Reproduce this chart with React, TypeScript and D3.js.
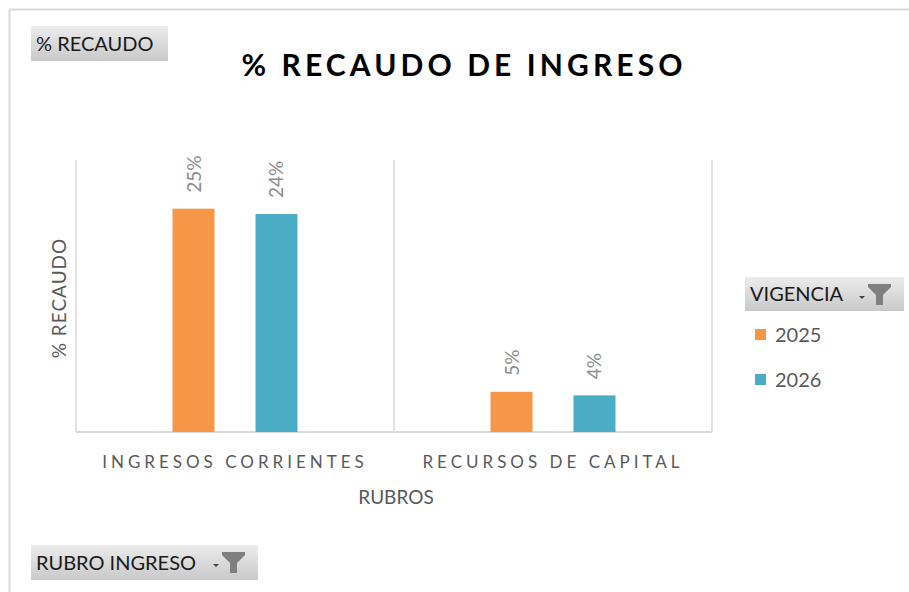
import React from "react";
import * as d3 from "d3";

const categories = ["INGRESOS CORRIENTES", "RECURSOS DE CAPITAL"];
const seriesNames = ["2025", "2026"];
const values2025 = [25.0, 4.5];
const values2026 = [24.4, 4.1];
const valueLabels2025 = ["25%", "5%"];
const valueLabels2026 = ["24%", "4%"];
const colors = ["#F79646", "#4BACC6"];

const W = 909;
const H = 592;
const FONT = "Lato, 'Open Sans', sans-serif";

function FilterIcon({ x, y }: { x: number; y: number }) {
  return (
    <g transform={`translate(${x},${y})`}>
      <path d="M0,12 L6,12 L3,15 Z" fill="#404040" />
      <path d="M9,0 L32,0 L32,3 L24,11 L24,21 L17,21 L17,11 L9,3 Z" fill="#7f7f7f" />
    </g>
  );
}

function Button({ x, y, w, h, label, filter, id }: any) {
  return (
    <g>
      <defs>
        <linearGradient id={id} x1="0" y1="0" x2="0" y2="1">
          <stop offset="0" stopColor="#ececec" />
          <stop offset="1" stopColor="#c9c9c9" />
        </linearGradient>
      </defs>
      <rect x={x} y={y} width={w} height={h} fill={`url(#${id})`} />
      <text x={x + 5} y={y + h / 2 + 7} fontFamily={FONT} fontSize={20} fill="#1a1a1a">
        {label}
      </text>
      {filter && <FilterIcon x={x + w - 45} y={y + 7} />}
    </g>
  );
}

export default function App() {
  const plotLeft = 76;
  const plotRight = 712;
  const plotTop = 160;
  const baseY = 432;

  const x0 = d3.scaleBand().domain(categories).range([plotLeft, plotRight]).paddingInner(0).paddingOuter(0);
  const x1 = d3.scaleBand().domain(seriesNames).range([0, x0.bandwidth()]).paddingInner(0.494).paddingOuter(1.163);
  const y = d3.scaleLinear().domain([0, 30]).range([baseY, 164]);

  const seriesValues = [values2025, values2026];
  const seriesLabels = [valueLabels2025, valueLabels2026];

  return (
    <svg width={W} height={H} style={{ position: "absolute", left: 0, top: 0, background: "#fff" }}>
      <rect x={0} y={0} width={W} height={H} fill="#fff" />
      {/* outer border */}
      <line x1={9.5} y1={9.5} x2={W} y2={9.5} stroke="#d9d9d9" strokeWidth={2} />
      <line x1={9.5} y1={9.5} x2={9.5} y2={H} stroke="#d9d9d9" strokeWidth={2} />

      <Button id="g1" x={31} y={26} w={137} h={35} label="% RECAUDO" filter={false} />

      <text x={464} y={76} textAnchor="middle" fontFamily={FONT} fontWeight={700} fontSize={30} letterSpacing={4.1} fill="#000">
        % RECAUDO DE INGRESO
      </text>

      {/* vertical grid separators */}
      {[plotLeft, ...categories.map((c) => (x0(c) as number) + x0.bandwidth())].map((xv, i) => (
        <line key={i} x1={xv} x2={xv} y1={plotTop} y2={baseY} stroke="#d9d9d9" strokeWidth={1.5} />
      ))}
      <line x1={plotLeft} x2={plotRight} y1={baseY} y2={baseY} stroke="#d9d9d9" strokeWidth={2} />

      {categories.map((c, ci) => (
        <g key={c}>
          {seriesNames.map((s, si) => {
            const bx = (x0(c) as number) + (x1(s) as number);
            const v = seriesValues[si][ci];
            const top = y(v);
            return (
              <g key={s}>
                <rect x={bx} y={top} width={x1.bandwidth()} height={baseY - top} fill={colors[si]} />
                <text
                  transform={`translate(${bx + x1.bandwidth() / 2 + 7},${top - 16}) rotate(-90)`}
                  fontFamily={FONT}
                  fontSize={19}
                  fill="#8c8c8c"
                >
                  {seriesLabels[si][ci]}
                </text>
              </g>
            );
          })}
          <text
            x={(x0(c) as number) + x0.bandwidth() / 2}
            y={468}
            textAnchor="middle"
            fontFamily={FONT}
            fontSize={17}
            letterSpacing={4}
            fill="#595959"
          >
            {c}
          </text>
        </g>
      ))}

      <text x={396} y={504} textAnchor="middle" fontFamily={FONT} fontSize={19} fill="#595959">
        RUBROS
      </text>
      <text transform={`translate(66,298) rotate(-90)`} textAnchor="middle" fontFamily={FONT} fontSize={19} letterSpacing={1} fill="#595959">
        % RECAUDO
      </text>

      <Button id="g2" x={745} y={277} w={159} h={34} label="VIGENCIA" filter={true} />
      {seriesNames.map((s, i) => (
        <g key={s}>
          <rect x={755} y={329 + i * 45} width={11} height={11} fill={colors[i]} />
          <text x={775} y={342 + i * 45} fontFamily={FONT} fontSize={20} fill="#595959">
            {s}
          </text>
        </g>
      ))}

      <Button id="g3" x={31} y={545} w={227} h={35} label="RUBRO INGRESO" filter={true} />
    </svg>
  );
}
